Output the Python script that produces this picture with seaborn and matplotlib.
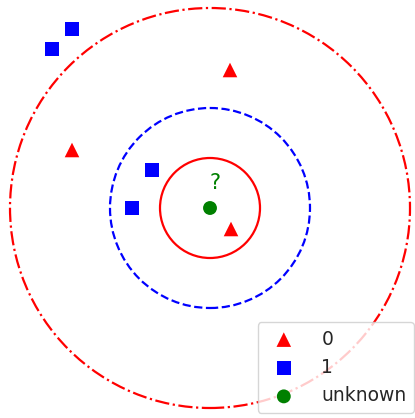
import numpy as np
import pandas as pd
import matplotlib
matplotlib.use("Agg")
import matplotlib.pyplot as plt
import seaborn as sns

# class 0 (triangles)
x0 = [0.40, -2.76, 0.42]
y0 = [2.76, 1.16, -0.42]
# class 1 (squares)
x1 = [-2.76, -3.16, -1.16, -1.56]
y1 = [3.58, 3.18, 0.76, 0.00]
# unknown point
xu = [0.0]
yu = [0.0]
# neighbourhood radii
radii = [1.0, 2.0, 4.0]
circle_styles = [("red", "-"), ("blue", "--"), ("red", "-.")]

sns.set_style("white")

fig = plt.figure(figsize=(4.15, 4.18), dpi=100)
ax = fig.add_axes([0, 0, 1, 1])

sns.scatterplot(x=x0, y=y0, color="red", marker="^", s=110, edgecolor="none",
                label="0", ax=ax)
sns.scatterplot(x=x1, y=y1, color="blue", marker="s", s=100, edgecolor="none",
                label="1", ax=ax)
sns.scatterplot(x=xu, y=yu, color="green", marker="o", s=100, edgecolor="none",
                label="unknown", ax=ax)

for r, (c, ls) in zip(radii, circle_styles):
    ax.add_patch(plt.Circle((xu[0], yu[0]), r, fill=False, color=c,
                            linestyle=ls, linewidth=1.6))

ax.text(xu[0] + 0.1, yu[0] + 0.5, "?", color="green", fontsize=15,
        ha="center", va="center")

ax.set_xlim(-4.2, 4.1)
ax.set_ylim(-4.2, 4.16)
ax.set_aspect("equal")
ax.axis("off")

ax.legend(loc="upper left", bbox_to_anchor=(0.598, 0.252), fontsize=13.5,
          handletextpad=1.0)

fig.savefig("out.png", dpi=100)
plt.close(fig)
